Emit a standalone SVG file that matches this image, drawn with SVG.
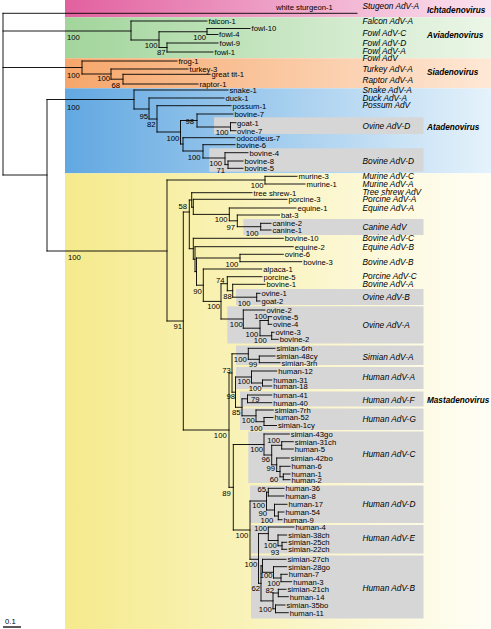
<svg xmlns="http://www.w3.org/2000/svg" width="491" height="629" viewBox="0 0 491 629">
<defs>
<linearGradient id="gPink" x1="0" x2="1" y1="0" y2="0"><stop offset="0" stop-color="#e2609f"/><stop offset="1" stop-color="#fbe3ef"/></linearGradient>
<linearGradient id="gGreen" x1="0" x2="1" y1="0" y2="0"><stop offset="0" stop-color="#a2d59c"/><stop offset="1" stop-color="#ecf6e8"/></linearGradient>
<linearGradient id="gOrange" x1="0" x2="1" y1="0" y2="0"><stop offset="0" stop-color="#f6a66a"/><stop offset="1" stop-color="#fee8d6"/></linearGradient>
<linearGradient id="gBlue" x1="0" x2="1" y1="0" y2="0"><stop offset="0" stop-color="#62a8e1"/><stop offset="1" stop-color="#e5f2fb"/></linearGradient>
<linearGradient id="gYellow" x1="0" x2="1" y1="0" y2="0"><stop offset="0" stop-color="#f5ea8c"/><stop offset="1" stop-color="#fffef6"/></linearGradient>
</defs>
<style>
text{font-family:"Liberation Sans",Arial,sans-serif;fill:#000}
.t{font-size:7.7px}
.b{font-size:7.7px;text-anchor:end}
.c{font-size:7.7px}
.s{font-size:8.3px;font-style:italic}
.g{font-size:8.2px;font-style:italic;font-weight:bold}
.box{fill:#d6d6d6}
.tree{fill:none;stroke:#000;stroke-width:0.9;stroke-linecap:square}
</style>
<g id="bands">
<rect x="65" y="0" width="426" height="17.3" fill="url(#gPink)"/>
<rect x="65" y="17.3" width="426" height="41" fill="url(#gGreen)"/>
<rect x="65" y="58.3" width="426" height="30" fill="url(#gOrange)"/>
<rect x="65" y="88.3" width="426" height="85" fill="url(#gBlue)"/>
<rect x="65" y="173.3" width="426" height="455.7" fill="url(#gYellow)"/>
</g>
<g id="boxes">
<rect class="box" x="214" y="117.3" width="209.5" height="16.7"/>
<rect class="box" x="209.3" y="148.3" width="214.2" height="23.4"/>
<rect class="box" x="243.3" y="219" width="180.2" height="16"/>
<rect class="box" x="236" y="289" width="187.5" height="16"/>
<rect class="box" x="227.3" y="306.3" width="196.2" height="37.2"/>
<rect class="box" x="236" y="345.5" width="187.5" height="19.5"/>
<rect class="box" x="236" y="367" width="187.5" height="22"/>
<rect class="box" x="240" y="391.5" width="183.5" height="15"/>
<rect class="box" x="240" y="408.5" width="183.5" height="21.5"/>
<rect class="box" x="248.3" y="431.5" width="175.2" height="51.5"/>
<rect class="box" x="250" y="485.5" width="173.5" height="37.5"/>
<rect class="box" x="251" y="525" width="172.5" height="28.5"/>
<rect class="box" x="251" y="555.5" width="172.5" height="63"/>
</g>
<g id="connectors">
<path class="tree" d="M3 13.3V175M3 13.3H357M3 31H131M3 67.5H82M3 175H47
M131 21V40M131 21H207M131 40H159M159 31.75V47.5M159 31.75H207M207 28.5V34.5M207 28.5H250M207 34.5H218M159 47.5H167M167 43V52M167 43H218M167 52H213
M82 61V74M82 61H177M82 74H111M111 69V79.2M111 69H188M111 79.2H123M123 74.3V84M123 74.3H210M123 84H198
M47 99.5V251M47 99.5H134M134 90V109M134 90H228M134 109H149M149 98V119M149 98H224M149 119H157M157 105.7V132M157 105.7H231M157 132H180.5M180.5 120.5V144M180.5 120.5H197M197 114V127M197 114H233M197 127H230.5M230.5 122.7V130.7M230.5 122.7H236M230.5 130.7H236M180.5 144H183M183 137.7V151M183 137.7H235M183 151H203M203 144.7V158M203 144.7H235M203 158H225M225 152.7V164.6M225 152.7H248M225 164.6H228M228 161V168.3M228 161H243M228 168.3H243
M47 251H167M167 180V321M167 180H265M265 176.3V184M265 176.3H297M265 184H305
M167 321H183.3M183.3 212V430M183.3 212H189.3M189.3 200V248.7M189.3 200H191.7M191.7 192.7V207.2M191.7 192.7H252M191.7 207.2H193.3M193.3 199.3V214.4M193.3 199.3H287M193.3 214.4H229.3M229.3 208V220.8M229.3 208H296M229.3 220.8H237.3M237.3 215V226.7M237.3 215H279.5M237.3 226.7H260.7M260.7 223.3V230M260.7 223.3H271M260.7 230H271
M189.3 248.7H193.3M193.3 238.3V259.2M193.3 238.3H283.3M193.3 259.2H195M195 246.7V271.6M195 246.7H293.3M195 271.6H196.5M196.5 258V285.2M196.5 258H240M240 254.3V261.7M240 254.3H283.3M240 261.7H301.7M196.5 285.2H203.3M203.3 269V301.4M203.3 269H261.7M203.3 301.4H221M221 283.7V319M221 283.7H227.3M227.3 276.7V290.7M227.3 276.7H262M227.3 290.7H232.7M232.7 284.3V297.2M232.7 284.3H265M232.7 297.2H256.7M256.7 293.3V301M256.7 293.3H260M256.7 301H260
M221 319H243.3M243.3 310V328.2M243.3 310H265M243.3 328.2H260M260 320.5V335.8M260 320.5H268.3M268.3 316.7V324.3M268.3 316.7H271.7M268.3 324.3H271.7M260 335.8H271.7M271.7 332.3V339.3M271.7 332.3H274M271.7 339.3H278.3
M183.3 430H229M229 373V487.3M229 373H232M232 353.8V392.2M232 353.8H248.3M248.3 348.3V359.3M248.3 348.3H275M248.3 359.3H259.3M259.3 356V362.7M259.3 356H275M259.3 362.7H280
M232 392.2H235.5M235.5 377V407.3M235.5 377H251.5M251.5 371V383M251.5 371H276.7M251.5 383H262.5M262.5 380V386M262.5 380H271.7M262.5 386H271.7M235.5 407.3H242M242 398.8V415.8M242 398.8H247.5M247.5 395V402.7M247.5 395H271.7M247.5 402.7H271.7M242 415.8H256M256 410V421.7M256 410H273.3M256 421.7H264M264 417.5V425.5M264 417.5H273M264 425.5H276.5
M229 487.3H233.3M233.3 444.5V530M233.3 444.5H264M264 434V455M264 434H289.3M264 455H271.7M271.7 445.3V464.8M271.7 445.3H281.7M281.7 441.7V449M281.7 441.7H293.3M281.7 449H293.3M271.7 464.8H276.7M276.7 458V471.5M276.7 458H289.3M276.7 471.5H280M280 466.3V476.8M280 466.3H290M280 476.8H283.3M283.3 474V479.7M283.3 474H290M283.3 479.7H290
M233.3 530H250M250 501V559.3M250 501H266.5M266.5 492.2V510M266.5 492.2H268.3M268.3 488.3V496M268.3 488.3H284M268.3 496H284M266.5 510H274.5M274.5 504.3V516M274.5 504.3H287M274.5 516H278.3M278.3 512V519.7M278.3 512H284M278.3 519.7H282
M250 559.3H258.5M258.5 533.6V583.3M258.5 533.6H268.3M268.3 527V540.5M268.3 527H294M268.3 540.5H278M278 535V545.8M278 535H286.7M278 545.8H282M282 542.3V549.3M282 542.3H286.7M282 549.3H286.7
M258.5 583.3H261M261 565.8V600.9M261 565.8H262.5M262.5 559.3V572.3M262.5 559.3H286M262.5 572.3H273.5M273.5 566.7V578M273.5 566.7H286.7M273.5 578H281M281 574.3V581.7M281 574.3H287.3M281 581.7H291.7M261 600.9H273M273 593V608.8M273 593H278.3M278.3 589.3V596.7M278.3 589.3H286M278.3 596.7H288.3M273 608.8H275.5M275.5 605V612.7M275.5 605H285M275.5 612.7H288.3"/>
<path class="tree" d="M3 627H21" style="stroke-width:1.3;stroke-linecap:butt"/>
</g>
<g id="scale"><text class="c" x="5" y="624">0.1</text></g>
<g id="genera">
<text class="g" x="427" y="13">Ichtadenovirus</text>
<text class="g" x="427" y="38">Aviadenovirus</text>
<text class="g" x="427" y="74.7">Siadenovirus</text>
<text class="g" x="427" y="130.3">Atadenovirus</text>
<text class="g" x="427" y="403">Mastadenovirus</text>
</g>
<g id="species">
<text class="s" x="362.5" y="9">Stugeon AdV-A</text>
<text class="s" x="362.5" y="24">Falcon AdV-A</text>
<text class="s" x="362.5" y="36">Fowl AdV-C</text>
<text class="s" x="362.5" y="45.5">Fowl AdV-D</text>
<text class="s" x="362.5" y="53.5">Fowl AdV-A</text>
<text class="s" x="362.5" y="61">Fowl AdV</text>
<text class="s" x="362.5" y="72">Turkey AdV-A</text>
<text class="s" x="362.5" y="83">Raptor AdV-A</text>
<text class="s" x="362.5" y="93">Snake AdV-A</text>
<text class="s" x="362.5" y="100.8">Duck AdV-A</text>
<text class="s" x="362.5" y="108.3">Possum AdV</text>
<text class="s" x="362.5" y="128.7">Ovine AdV-D</text>
<text class="s" x="362.5" y="164">Bovine AdV-D</text>
<text class="s" x="362.5" y="179">Murine AdV-C</text>
<text class="s" x="362.5" y="187">Murine AdV-A</text>
<text class="s" x="362.5" y="194.7">Tree shrew AdV</text>
<text class="s" x="362.5" y="202.3">Porcine AdV-A</text>
<text class="s" x="362.5" y="210.5">Equine AdV-A</text>
<text class="s" x="362.5" y="229.7">Canine AdV</text>
<text class="s" x="362.5" y="241.3">Bovine AdV-C</text>
<text class="s" x="362.5" y="249.7">Equine AdV-B</text>
<text class="s" x="362.5" y="264.7">Bovine AdV-B</text>
<text class="s" x="362.5" y="278.7">Porcine AdV-C</text>
<text class="s" x="362.5" y="287.3">Bovine AdV-A</text>
<text class="s" x="362.5" y="299.7">Ovine AdV-B</text>
<text class="s" x="362.5" y="328">Ovine AdV-A</text>
<text class="s" x="362.5" y="359.7">Simian AdV-A</text>
<text class="s" x="362.5" y="379.7">Human AdV-A</text>
<text class="s" x="362.5" y="403">Human AdV-F</text>
<text class="s" x="362.5" y="421.5">Human AdV-G</text>
<text class="s" x="362.5" y="457.3">Human AdV-C</text>
<text class="s" x="362.5" y="507.3">Human AdV-D</text>
<text class="s" x="362.5" y="541.3">Human AdV-E</text>
<text class="s" x="362.5" y="591.3">Human AdV-B</text>
</g>
<g id="tips" class="t">
<g id="ichta"><text class="t" x="276" y="10">white sturgeon-1</text></g>
<g id="avia">
<text class="t" x="208.5" y="23.8">falcon-1</text>
<text class="t" x="251.5" y="31.3">fowl-10</text>
<text class="t" x="219" y="37.3">fowl-4</text>
<text class="t" x="219.5" y="45.8">fowl-9</text>
<text class="t" x="214.5" y="54.8">fowl-1</text>
</g>
<g id="siad">
<text class="t" x="178.5" y="63.8">frog-1</text>
<text class="t" x="189.5" y="71.8">turkey-3</text>
<text class="t" x="211.5" y="77.1">great tit-1</text>
<text class="t" x="199.5" y="86.8">raptor-1</text>
</g>
<g id="ata">
<text class="t" x="229.5" y="92.8">snake-1</text>
<text class="t" x="225.5" y="100.8">duck-1</text>
<text class="t" x="232.5" y="108.5">possum-1</text>
<text class="t" x="234.5" y="116.8">bovine-7</text>
<text class="t" x="237" y="125.5">goat-1</text>
<text class="t" x="237" y="133.5">ovine-7</text>
<text class="t" x="236.5" y="140.5">odocoileus-7</text>
<text class="t" x="236.5" y="147.5">bovine-6</text>
<text class="t" x="249.5" y="155.5">bovine-4</text>
<text class="t" x="244.5" y="163.8">bovine-8</text>
<text class="t" x="244.5" y="171.1">bovine-5</text>
</g>
<g id="masta">
<text class="t" x="298.5" y="179.1">murine-3</text>
<text class="t" x="306.5" y="186.8">murine-1</text>
<text class="t" x="253.5" y="195.5">tree shrew-1</text>
<text class="t" x="288.5" y="202.1">porcine-3</text>
<text class="t" x="297.5" y="210.8">equine-1</text>
<text class="t" x="281" y="217.8">bat-3</text>
<text class="t" x="272.5" y="226.1">canine-2</text>
<text class="t" x="272.5" y="232.8">canine-1</text>
<text class="t" x="284.8" y="241.1">bovine-10</text>
<text class="t" x="294.8" y="249.5">equine-2</text>
<text class="t" x="284.8" y="257.1">ovine-6</text>
<text class="t" x="303.2" y="264.5">bovine-3</text>
<text class="t" x="263.2" y="271.8">alpaca-1</text>
<text class="t" x="263.5" y="279.5">porcine-5</text>
<text class="t" x="266.5" y="287.1">bovine-1</text>
<text class="t" x="261.5" y="296.1">ovine-1</text>
<text class="t" x="261.5" y="303.8">goat-2</text>
<text class="t" x="266.5" y="312.8">ovine-2</text>
<text class="t" x="273" y="319.5">ovine-5</text>
<text class="t" x="273" y="327.1">ovine-4</text>
<text class="t" x="275.5" y="335.1">ovine-3</text>
<text class="t" x="279.8" y="342.1">bovine-2</text>
<text class="t" x="276.5" y="351.1">simian-6rh</text>
<text class="t" x="276.5" y="358.8">simian-48cy</text>
<text class="t" x="281.5" y="365.5">simian-3rh</text>
<text class="t" x="278.2" y="373.8">human-12</text>
<text class="t" x="273.2" y="382.8">human-31</text>
<text class="t" x="273.2" y="388.8">human-18</text>
<text class="t" x="273.2" y="397.8">human-41</text>
<text class="t" x="273.2" y="405.5">human-40</text>
<text class="t" x="274.8" y="412.8">simian-7rh</text>
<text class="t" x="274.5" y="420.3">human-52</text>
<text class="t" x="278" y="428.3">simian-1cy</text>
<text class="t" x="290.8" y="436.8">simian-43go</text>
<text class="t" x="294.8" y="444.5">simian-31ch</text>
<text class="t" x="294.8" y="451.8">human-5</text>
<text class="t" x="290.8" y="460.8">simian-42bo</text>
<text class="t" x="291.5" y="469.1">human-6</text>
<text class="t" x="291.5" y="476.8">human-1</text>
<text class="t" x="291.5" y="482.5">human-2</text>
<text class="t" x="285.5" y="491.1">human-36</text>
<text class="t" x="285.5" y="498.8">human-8</text>
<text class="t" x="288.5" y="507.1">human-17</text>
<text class="t" x="285.5" y="514.8">human-54</text>
<text class="t" x="283.5" y="522.5">human-9</text>
<text class="t" x="295.5" y="529.8">human-4</text>
<text class="t" x="288.2" y="537.8">simian-38ch</text>
<text class="t" x="288.2" y="545.1">simian-25ch</text>
<text class="t" x="288.2" y="552.1">simian-22ch</text>
<text class="t" x="287.5" y="562.1">simian-27ch</text>
<text class="t" x="288.2" y="569.5">simian-28go</text>
<text class="t" x="288.8" y="577.1">human-7</text>
<text class="t" x="293.2" y="584.5">human-3</text>
<text class="t" x="287.5" y="592.1">simian-21ch</text>
<text class="t" x="289.8" y="599.5">human-14</text>
<text class="t" x="286.5" y="607.8">simian-35bo</text>
<text class="t" x="289.8" y="615.5">human-11</text>
</g>
</g>
<g id="support">
<text class="c" x="67" y="40">100</text>
<text class="c" x="67" y="77.5">100</text>
<text class="c" x="67" y="110">100</text>
<text class="c" x="68" y="259.5">100</text>
<text class="b" x="206" y="40">100</text>
<text class="b" x="157.5" y="47.5">100</text>
<text class="b" x="165.5" y="55">87</text>
<text class="b" x="110" y="80.5">100</text>
<text class="b" x="120" y="88">68</text>
<text class="b" x="148" y="119">95</text>
<text class="b" x="155.5" y="127">82</text>
<text class="b" x="194" y="124">98</text>
<text class="b" x="228.5" y="135">100</text>
<text class="b" x="179.3" y="141">100</text>
<text class="b" x="200.5" y="160">100</text>
<text class="b" x="222" y="166">100</text>
<text class="b" x="225" y="173">71</text>
<text class="b" x="263.5" y="187.5">100</text>
<text class="b" x="187" y="209">58</text>
<text class="b" x="227.5" y="222">100</text>
<text class="b" x="235" y="230">97</text>
<text class="b" x="258.5" y="235.7">100</text>
<text class="b" x="238.3" y="266.5">100</text>
<text class="b" x="224.5" y="283">74</text>
<text class="b" x="201.7" y="294">90</text>
<text class="b" x="231.7" y="298.5">88</text>
<text class="b" x="250.5" y="306">100</text>
<text class="b" x="220" y="308.7">100</text>
<text class="b" x="267" y="319.3">100</text>
<text class="b" x="242.7" y="327">100</text>
<text class="b" x="182" y="329">91</text>
<text class="b" x="258.3" y="336.5">100</text>
<text class="b" x="266.7" y="343.3">100</text>
<text class="b" x="246.7" y="361.7">100</text>
<text class="b" x="257.3" y="367.3">99</text>
<text class="b" x="230.7" y="372.5">73</text>
<text class="b" x="250.3" y="384.3">100</text>
<text class="b" x="261.5" y="391.3">100</text>
<text class="b" x="235" y="398.5">98</text>
<text class="b" x="259.5" y="401.5">79</text>
<text class="b" x="240.5" y="414.5">85</text>
<text class="b" x="254.7" y="422.7">100</text>
<text class="b" x="262.5" y="430.5">100</text>
<text class="b" x="226.7" y="438.3">100</text>
<text class="b" x="280" y="443.3">100</text>
<text class="b" x="263" y="452.3">100</text>
<text class="b" x="270" y="462.3">96</text>
<text class="b" x="275" y="471">99</text>
<text class="b" x="278.3" y="481.7">60</text>
<text class="b" x="266" y="491.5">65</text>
<text class="b" x="230.7" y="495.7">89</text>
<text class="b" x="265" y="508.3">100</text>
<text class="b" x="267" y="515.5">90</text>
<text class="b" x="273.3" y="523.3">100</text>
<text class="b" x="267" y="531">100</text>
<text class="b" x="248.3" y="537.7">100</text>
<text class="b" x="276.7" y="547.7">100</text>
<text class="b" x="279.3" y="555">93</text>
<text class="b" x="257.3" y="567.3">100</text>
<text class="b" x="272.5" y="578.3">100</text>
<text class="b" x="280" y="585.7">100</text>
<text class="b" x="260" y="590.7">62</text>
<text class="b" x="274" y="592.7">82</text>
<text class="b" x="271.7" y="611.7">100</text>
</g>
</svg>
